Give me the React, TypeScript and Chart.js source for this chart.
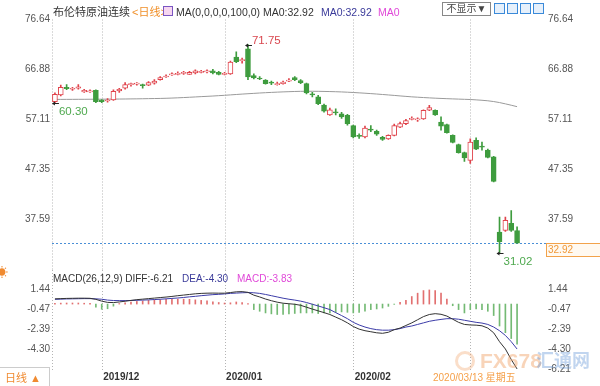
import React, { useEffect, useRef } from 'react';
import { Chart, registerables } from 'chart.js';

Chart.register(...registerables);

// ---------- DATA ----------
const dates = [
  '2019/11/20', '2019/11/21', '2019/11/22', '2019/11/25', '2019/11/26', '2019/11/27', '2019/11/28', '2019/11/29',
  '2019/12/02', '2019/12/03', '2019/12/04', '2019/12/05', '2019/12/06', '2019/12/09', '2019/12/10', '2019/12/11',
  '2019/12/12', '2019/12/13', '2019/12/16', '2019/12/17', '2019/12/18', '2019/12/19', '2019/12/20', '2019/12/23',
  '2019/12/24', '2019/12/26', '2019/12/27', '2019/12/30', '2019/12/31',
  '2020/01/02', '2020/01/03', '2020/01/06', '2020/01/07', '2020/01/08', '2020/01/09', '2020/01/10', '2020/01/13',
  '2020/01/14', '2020/01/15', '2020/01/16', '2020/01/17', '2020/01/20', '2020/01/21', '2020/01/22', '2020/01/23',
  '2020/01/24', '2020/01/27', '2020/01/28', '2020/01/29', '2020/01/30', '2020/01/31',
  '2020/02/03', '2020/02/04', '2020/02/05', '2020/02/06', '2020/02/07', '2020/02/10', '2020/02/11', '2020/02/12',
  '2020/02/13', '2020/02/14', '2020/02/17', '2020/02/18', '2020/02/19', '2020/02/20', '2020/02/21', '2020/02/24',
  '2020/02/25', '2020/02/26', '2020/02/27', '2020/02/28',
  '2020/03/02', '2020/03/03', '2020/03/04', '2020/03/05', '2020/03/06', '2020/03/09', '2020/03/10', '2020/03/11',
  '2020/03/12',
];

const open = [
  60.6, 61.9, 63.4, 63.0, 63.2, 62.5, 62.5, 62.8,
  60.9, 60.7, 60.9, 62.7, 63.2, 63.9, 64.0, 63.9, 63.8, 64.2, 64.9, 65.4, 65.8, 65.9, 66.1, 65.9, 66.2, 66.3, 66.4, 66.6, 66.3,
  65.9, 66.0, 69.3, 68.6, 70.9, 65.7, 65.2, 64.8, 64.3, 63.9, 64.1, 64.6, 65.3, 64.7, 64.1, 62.1, 61.5, 59.9, 58.0, 58.6, 58.2, 57.9,
  55.9, 53.9, 53.7, 55.2, 54.8, 53.6, 53.3, 54.0, 55.6, 56.3, 57.1, 57.0, 57.2, 58.9, 58.9, 56.6, 56.1, 54.0, 52.2, 50.6,
  49.1, 53.0, 51.9, 51.1, 49.8, 35.1, 35.4, 36.8, 35.4,
];
const high = [
  62.3, 63.8, 63.9, 63.4, 63.9, 63.0, 62.9, 62.9,
  61.0, 61.2, 62.9, 63.2, 64.3, 64.2, 64.3, 64.0, 64.5, 64.9, 65.5, 65.8, 66.2, 66.4, 66.5, 66.5, 66.8, 66.7, 66.8, 66.9, 66.5,
  66.3, 68.5, 70.3, 69.1, 71.75, 66.0, 65.5, 64.9, 64.6, 64.4, 64.6, 65.1, 65.5, 64.9, 64.2, 62.4, 61.8, 60.1, 59.3, 59.2, 58.5, 58.1,
  56.0, 54.3, 55.8, 55.9, 55.0, 53.8, 54.1, 56.2, 56.6, 57.1, 57.6, 57.4, 59.0, 59.85, 59.0, 57.6, 56.2, 54.1, 52.3, 50.7,
  53.3, 53.5, 52.7, 51.3, 49.9, 38.0, 38.0, 39.3, 36.1,
];
const low = [
  60.3, 61.7, 62.9, 62.8, 63.0, 62.4, 62.4, 60.4,
  60.4, 60.5, 60.8, 62.4, 63.0, 63.6, 63.8, 63.2, 63.7, 64.0, 64.8, 65.3, 65.7, 65.8, 65.9, 65.9, 66.0, 66.2, 66.2, 66.0, 65.8,
  65.8, 65.9, 68.2, 68.1, 64.9, 65.0, 64.9, 64.0, 63.9, 63.8, 64.0, 64.5, 64.7, 64.1, 62.1, 61.5, 60.0, 58.5, 57.9, 58.0, 57.3, 56.0,
  53.5, 53.4, 53.5, 54.7, 54.0, 53.0, 53.2, 53.9, 55.5, 56.1, 57.0, 56.7, 57.1, 58.8, 57.9, 55.0, 54.4, 52.5, 50.5, 48.9,
  48.5, 51.2, 51.1, 49.6, 44.9, 31.02, 35.2, 35.2, 32.9,
];
const close = [
  62.0, 63.4, 63.1, 63.2, 63.5, 62.8, 62.7, 60.6,
  60.6, 60.9, 62.6, 63.0, 63.9, 64.0, 64.1, 63.7, 64.3, 64.6, 65.3, 65.6, 66.0, 66.1, 66.2, 66.3, 66.6, 66.4, 66.5, 66.2, 65.9,
  66.0, 68.3, 68.4, 68.7, 65.4, 65.2, 65.0, 64.1, 64.2, 64.0, 64.4, 64.8, 64.9, 64.3, 62.3, 61.9, 60.2, 58.7, 59.0, 58.4, 57.6, 56.3,
  53.7, 53.8, 55.4, 55.0, 54.2, 53.2, 54.0, 55.9, 56.3, 56.9, 57.3, 57.2, 58.9, 59.4, 58.0, 55.8, 54.5, 52.6, 50.6, 49.6,
  52.7, 51.3, 51.7, 49.7, 45.0, 33.2, 37.4, 35.4, 32.92,
];

// MA100
const ma100 = [
  61.02, 61.02, 61.03, 61.03, 61.04, 61.04, 61.05, 61.05, 61.06, 61.07, 61.08, 61.09, 61.1, 61.12, 61.13, 61.15,
  61.17, 61.19, 61.21, 61.24, 61.28, 61.33, 61.38, 61.44, 61.5, 61.56, 61.62, 61.68, 61.75, 61.82, 61.9, 61.98,
  62.06, 62.13, 62.2, 62.27, 62.33, 62.39, 62.44, 62.49, 62.53, 62.57, 62.6, 62.61, 62.61, 62.6, 62.58, 62.55,
  62.52, 62.48, 62.43, 62.37, 62.3, 62.23, 62.15, 62.07, 61.98, 61.89, 61.8, 61.7, 61.61, 61.52, 61.45, 61.38,
  61.32, 61.26, 61.21, 61.16, 61.12, 61.08, 61.04, 61.0, 60.93, 60.85, 60.75, 60.6, 60.4, 60.15, 59.88, 59.6,
];

const diff = [
  0.5, 0.52, 0.54, 0.55, 0.56, 0.56, 0.55, 0.45, 0.28, 0.16, 0.14, 0.2, 0.27, 0.35, 0.42, 0.47,
  0.52, 0.57, 0.62, 0.67, 0.73, 0.8, 0.86, 0.92, 0.98, 1.02, 1.04, 1.05, 1.04, 1.04, 1.1, 1.17,
  1.19, 1.12, 0.85, 0.68, 0.48, 0.32, 0.18, 0.08, 0.03, -0.02, -0.12, -0.3, -0.48, -0.65, -0.82, -1.0,
  -1.25, -1.5, -1.8, -2.15, -2.4, -2.55, -2.65, -2.75, -2.8, -2.7, -2.45, -2.3, -2.05, -1.8, -1.5, -1.2,
  -1.0, -0.92, -0.98, -1.15, -1.45, -1.75, -1.95, -2.0, -2.02, -2.08, -2.3, -2.75, -3.6, -4.3, -5.3, -6.21,
];
const dea = [
  0.45, 0.47, 0.49, 0.5, 0.51, 0.52, 0.52, 0.5, 0.46, 0.38, 0.34, 0.33, 0.33, 0.34, 0.36, 0.38,
  0.4, 0.43, 0.46, 0.5, 0.54, 0.58, 0.63, 0.69, 0.74, 0.8, 0.85, 0.9, 0.93, 0.97, 1.02, 1.05,
  1.08, 1.1, 1.08, 1.02, 0.92, 0.8, 0.68, 0.56, 0.46, 0.38, 0.28, 0.15, -0.02, -0.18, -0.35, -0.53,
  -0.82, -1.1, -1.4, -1.75, -2.0, -2.2, -2.35, -2.45, -2.5, -2.5, -2.45, -2.35, -2.2, -2.1, -1.95, -1.8,
  -1.65, -1.55, -1.47, -1.4, -1.4, -1.45, -1.55, -1.65, -1.75, -1.82, -1.95, -2.2, -2.55, -3.0, -3.6, -4.3,
];
const macdHist = [
  0.08, 0.09, 0.1, 0.1, 0.1, 0.08, 0.06, -0.3, -0.5, -0.45, -0.2, 0.05, 0.12, 0.2, 0.25, 0.3,
  0.35, 0.4, 0.42, 0.45, 0.47, 0.47, 0.47, 0.45, 0.4, 0.35, 0.3, 0.22, 0.15, 0.1, 0.12, 0.2,
  0.15, 0.05, -0.53, -0.69, -0.85, -0.94, -1.0, -1.0, -0.94, -0.9, -0.85, -0.85, -0.85, -0.91, -0.85, -0.85,
  -0.79, -0.75, -0.79, -0.85, -0.79, -0.69, -0.53, -0.47, -0.38, -0.22, -0.03, 0.16, 0.35, 0.72, 1.04, 1.29,
  1.35, 1.29, 1.04, 0.47, -0.16, -0.53, -0.85, -0.53, -0.47, -0.53, -0.69, -1.1, -2.1, -2.74, -3.3, -3.83,
];

const priceTicks = [76.64, 66.88, 57.11, 47.35, 37.59];
const macdTicksLeft = [1.44, -0.47, -2.39, -4.3];
const macdTicksRight = [1.44, -0.47, -2.39, -4.3, -6.21];
const markers = [
  { index: 33, kind: 'high' },
  { index: 0, kind: 'low' },
  { index: 76, kind: 'low' },
];
const crosshairDate = '2020/03/13 星期五';

// ---------- STYLE ----------
const FONT = "'Liberation Sans', Arial, 'Noto Sans CJK SC', sans-serif";
const RED = '#e0434b';
const GREEN = '#3e9c3e';
const GRID = '#b4b4b4';

function monthStarts() {
  const r: number[] = [];
  for (let i = 1; i < dates.length; i++) {
    if (dates[i].slice(0, 7) !== dates[i - 1].slice(0, 7)) r.push(i);
  }
  return r;
}

function drawVGrid(chart: any, top: number, bottom: number) {
  const { ctx, chartArea, scales } = chart;
  ctx.save();
  ctx.strokeStyle = GRID;
  ctx.lineWidth = 1;
  ctx.setLineDash([1, 2]);
  const xs = [chartArea.left, ...monthStarts().map((i) => scales.x.getPixelForValue(i))];
  xs.forEach((px) => {
    const xx = Math.round(px) + 0.5;
    ctx.beginPath();
    ctx.moveTo(xx, top);
    ctx.lineTo(xx, bottom);
    ctx.stroke();
  });
  ctx.restore();
}

const pricePlugin = {
  id: 'priceDecor',
  beforeDatasetsDraw(chart: any) {
    const { ctx, chartArea, scales } = chart;
    drawVGrid(chart, chartArea.top, chart.height);
    const last = close[close.length - 1];
    const py = Math.round(scales.y.getPixelForValue(last)) + 0.5;
    ctx.save();
    ctx.strokeStyle = '#4a8fd6';
    ctx.lineWidth = 1;
    ctx.setLineDash([2, 2]);
    ctx.beginPath();
    ctx.moveTo(chartArea.left, py);
    ctx.lineTo(546, py);
    ctx.stroke();
    ctx.restore();
  },
  afterDatasetsDraw(chart: any) {
    const { ctx, scales } = chart;
    ctx.save();
    markers.forEach((m) => {
      const x = scales.x.getPixelForValue(m.index);
      const v = m.kind === 'high' ? high[m.index] : low[m.index];
      const y = Math.round(scales.y.getPixelForValue(v)) + 0.5;
      ctx.strokeStyle = '#222';
      ctx.fillStyle = '#222';
      ctx.lineWidth = 1;
      ctx.setLineDash([]);
      ctx.beginPath();
      ctx.moveTo(x - 2, y);
      ctx.lineTo(x + 4, y);
      ctx.stroke();
      ctx.beginPath();
      ctx.moveTo(x - 3, y);
      ctx.lineTo(x, y - 2);
      ctx.lineTo(x, y + 2);
      ctx.closePath();
      ctx.fill();
      ctx.font = `11.5px ${FONT}`;
      ctx.textAlign = 'left';
      ctx.textBaseline = 'middle';
      ctx.fillStyle = m.kind === 'high' ? '#d9474f' : '#4fa94f';
      ctx.fillText(v.toFixed(2), x + 4, m.kind === 'high' ? y - 5 : y + 8);
    });
    // current price box on right axis
    const last = close[close.length - 1];
    const py = Math.round(scales.y.getPixelForValue(last));
    ctx.fillStyle = '#fff9f0';
    ctx.fillRect(546, py, 56, 14);
    ctx.strokeStyle = '#f2a24a';
    ctx.strokeRect(546.5, py + 0.5, 56, 13);
    ctx.fillStyle = '#f0993a';
    ctx.font = `10px ${FONT}`;
    ctx.textAlign = 'left';
    ctx.textBaseline = 'middle';
    ctx.fillText(last.toFixed(2), 548, py + 7.5);
    ctx.restore();
  },
};

const macdPlugin = {
  id: 'macdDecor',
  beforeDatasetsDraw(chart: any) {
    drawVGrid(chart, 0, chart.chartArea.bottom);
  },
  afterDraw(chart: any) {
    const { ctx, chartArea, scales } = chart;
    ctx.save();
    ctx.font = `bold 10px ${FONT}`;
    ctx.fillStyle = '#333';
    ctx.textAlign = 'left';
    ctx.textBaseline = 'middle';
    monthStarts().forEach((i) => {
      const px = scales.x.getPixelForValue(i);
      ctx.fillText(dates[i].slice(0, 7), px + 1.5, chartArea.bottom + 7);
    });
    ctx.restore();
  },
};

function yAxis(side: 'left' | 'right', min: number, max: number, ticks: number[], width: number, pad: number) {
  return {
    position: side,
    min,
    max,
    afterBuildTicks(s: any) {
      s.ticks = ticks.map((v) => ({ value: v }));
    },
    afterFit(s: any) {
      s.width = width;
      s.paddingTop = 0;
      s.paddingBottom = 0;
    },
    ticks: {
      callback: (v: any) => Number(v).toFixed(2),
      font: { family: FONT, size: 10 },
      color: '#555',
      padding: pad,
      autoSkip: false,
    },
    grid: { display: false, drawTicks: false },
    border: { display: false },
  };
}

export default function App() {
  const priceRef = useRef<HTMLCanvasElement>(null);
  const macdRef = useRef<HTMLCanvasElement>(null);

  useEffect(() => {
    const up = dates.map((_, i) => close[i] >= open[i]);
    const colors = up.map((u) => (u ? RED : GREEN));
    const fills = up.map((u) => (u ? '#ffffff' : GREEN));

    const c1 = new Chart(priceRef.current as HTMLCanvasElement, {
      type: 'bar',
      data: {
        labels: dates,
        datasets: [
          {
            type: 'line',
            label: 'MA100',
            data: ma100,
            borderColor: '#9a9a9a',
            borderWidth: 1,
            pointRadius: 0,
            tension: 0,
            order: 3,
          } as any,
          {
            type: 'bar',
            label: 'wick',
            data: dates.map((_, i) => [low[i], high[i]]),
            backgroundColor: colors,
            borderWidth: 0,
            barThickness: 1,
            grouped: false,
            order: 2,
          } as any,
          {
            type: 'bar',
            label: 'body',
            data: dates.map((_, i) => [open[i], close[i]]),
            backgroundColor: fills,
            borderColor: colors,
            borderWidth: 1,
            borderSkipped: false,
            barThickness: 5,
            minBarLength: 1,
            grouped: false,
            order: 1,
          } as any,
        ],
      },
      options: {
        animation: false,
        responsive: false,
        events: [],
        layout: { padding: { top: 19.5, bottom: 0, left: 0, right: 0 } },
        plugins: { legend: { display: false }, tooltip: { enabled: false } },
        scales: {
          x: { display: false, offset: true, grid: { display: false } },
          y: yAxis('left', 27.67, 76.64, priceTicks, 52, 2),
          y2: yAxis('right', 27.67, 76.64, priceTicks, 80, 28),
        } as any,
      },
      plugins: [pricePlugin],
    });

    const c2 = new Chart(macdRef.current as HTMLCanvasElement, {
      type: 'bar',
      data: {
        labels: dates,
        datasets: [
          {
            type: 'bar',
            label: 'MACD',
            data: macdHist,
            backgroundColor: macdHist.map((v) => (v >= 0 ? '#e27070' : '#74ba74')),
            borderWidth: 0,
            barThickness: 1,
            order: 3,
          } as any,
          {
            type: 'line',
            label: 'DEA',
            data: dea,
            borderColor: '#3c3ca8',
            borderWidth: 1,
            pointRadius: 0,
            tension: 0,
            order: 2,
          } as any,
          {
            type: 'line',
            label: 'DIFF',
            data: diff,
            borderColor: '#333333',
            borderWidth: 1,
            pointRadius: 0,
            tension: 0,
            order: 1,
          } as any,
        ],
      },
      options: {
        animation: false,
        responsive: false,
        events: [],
        layout: { padding: { top: 5, bottom: 16, left: 0, right: 0 } },
        plugins: { legend: { display: false }, tooltip: { enabled: false } },
        scales: {
          x: { display: false, offset: true, grid: { display: false } },
          y: yAxis('left', -6.31, 2.78, macdTicksLeft, 52, 2),
          y2: yAxis('right', -6.31, 2.78, macdTicksRight, 80, 28),
        } as any,
      },
      plugins: [macdPlugin],
    });

    return () => {
      c1.destroy();
      c2.destroy();
    };
  }, []);

  const span = (left: number, top: number, text: string, color: string, size: number, extra: any = {}) => (
    <span
      style={{
        position: 'absolute',
        left,
        top,
        color,
        fontSize: size,
        lineHeight: '14px',
        whiteSpace: 'nowrap',
        ...extra,
      }}
    >
      {text}
    </span>
  );

  return (
    <div
      style={{
        position: 'fixed',
        left: 0,
        top: 0,
        width: 600,
        height: 386,
        background: '#fff',
        overflow: 'hidden',
        fontFamily: FONT,
      }}
    >
      <canvas ref={priceRef} width={600} height={270} style={{ position: 'absolute', left: 0, top: 0, width: 600, height: 270 }} />
      <canvas ref={macdRef} width={600} height={116} style={{ position: 'absolute', left: 0, top: 270, width: 600, height: 116 }} />

      {/* title row */}
      {span(53, 5, '布伦特原油连续', '#333', 11)}
      {span(132, 5, '<日线>', '#f0902a', 11)}
      <div
        style={{
          position: 'absolute',
          left: 163,
          top: 6,
          width: 8,
          height: 8,
          border: '1px solid #7a56c2',
          background: '#f6d6f0',
        }}
      />
      {span(176, 5, 'MA(0,0,0,0,100,0) MA0:32.92', '#333', 10.5)}
      {span(321, 5, 'MA0:32.92', '#3b3b9a', 10.5)}
      {span(378, 5, 'MA0', '#e048d8', 10.5)}
      <div
        style={{
          position: 'absolute',
          left: 442,
          top: 2,
          width: 47,
          height: 12,
          border: '1px solid #888',
          fontSize: 10,
          lineHeight: '12px',
          color: '#444',
          textAlign: 'center',
        }}
      >
        不显示▼
      </div>
      {[0, 1, 2, 3].map((k) => (
        <div
          key={k}
          style={{
            position: 'absolute',
            left: 494 + k * 13,
            top: 3,
            width: 9,
            height: 9,
            border: '1px solid #3b8ad9',
            background: '#e6f0fb',
          }}
        />
      ))}

      {/* MACD legend */}
      {span(-4, 266, '☀', '#f08a30', 12)}
      {span(53, 272, 'MACD(26,12,9) DIFF:-6.21', '#333', 10)}
      {span(182, 272, 'DEA:-4.30', '#3b3b9a', 10)}
      {span(237, 272, 'MACD:-3.83', '#e048d8', 10)}

      {/* bottom bar */}
      <div
        style={{
          position: 'absolute',
          left: 0,
          top: 367,
          width: 49,
          height: 19,
          borderTop: '1px solid #ccc',
          borderRight: '1px solid #ccc',
          background: '#fff',
        }}
      />
      {span(5, 371, '日线 ▲', '#f08a30', 11)}
      <div
        style={{
          position: 'absolute',
          left: 431,
          top: 371,
          height: 14,
          padding: '0 3px 0 2px',
          background: '#fff',
          color: '#f5a04a',
          fontSize: 10,
          lineHeight: '14px',
          whiteSpace: 'nowrap',
        }}
      >
        {crosshairDate}
      </div>

      {/* watermark */}
      <div
        style={{
          position: 'absolute',
          left: 455,
          top: 351,
          width: 14,
          height: 14,
          borderRadius: '50%',
          border: '3px solid rgba(240,160,100,0.35)',
        }}
      />
      {span(480, 350, 'FX678', 'rgba(240,160,100,0.45)', 21, { fontWeight: 'bold', lineHeight: '22px' })}
      {span(536, 350, '汇通网', 'rgba(100,150,215,0.40)', 18, { fontWeight: 'bold', lineHeight: '22px' })}
    </div>
  );
}
